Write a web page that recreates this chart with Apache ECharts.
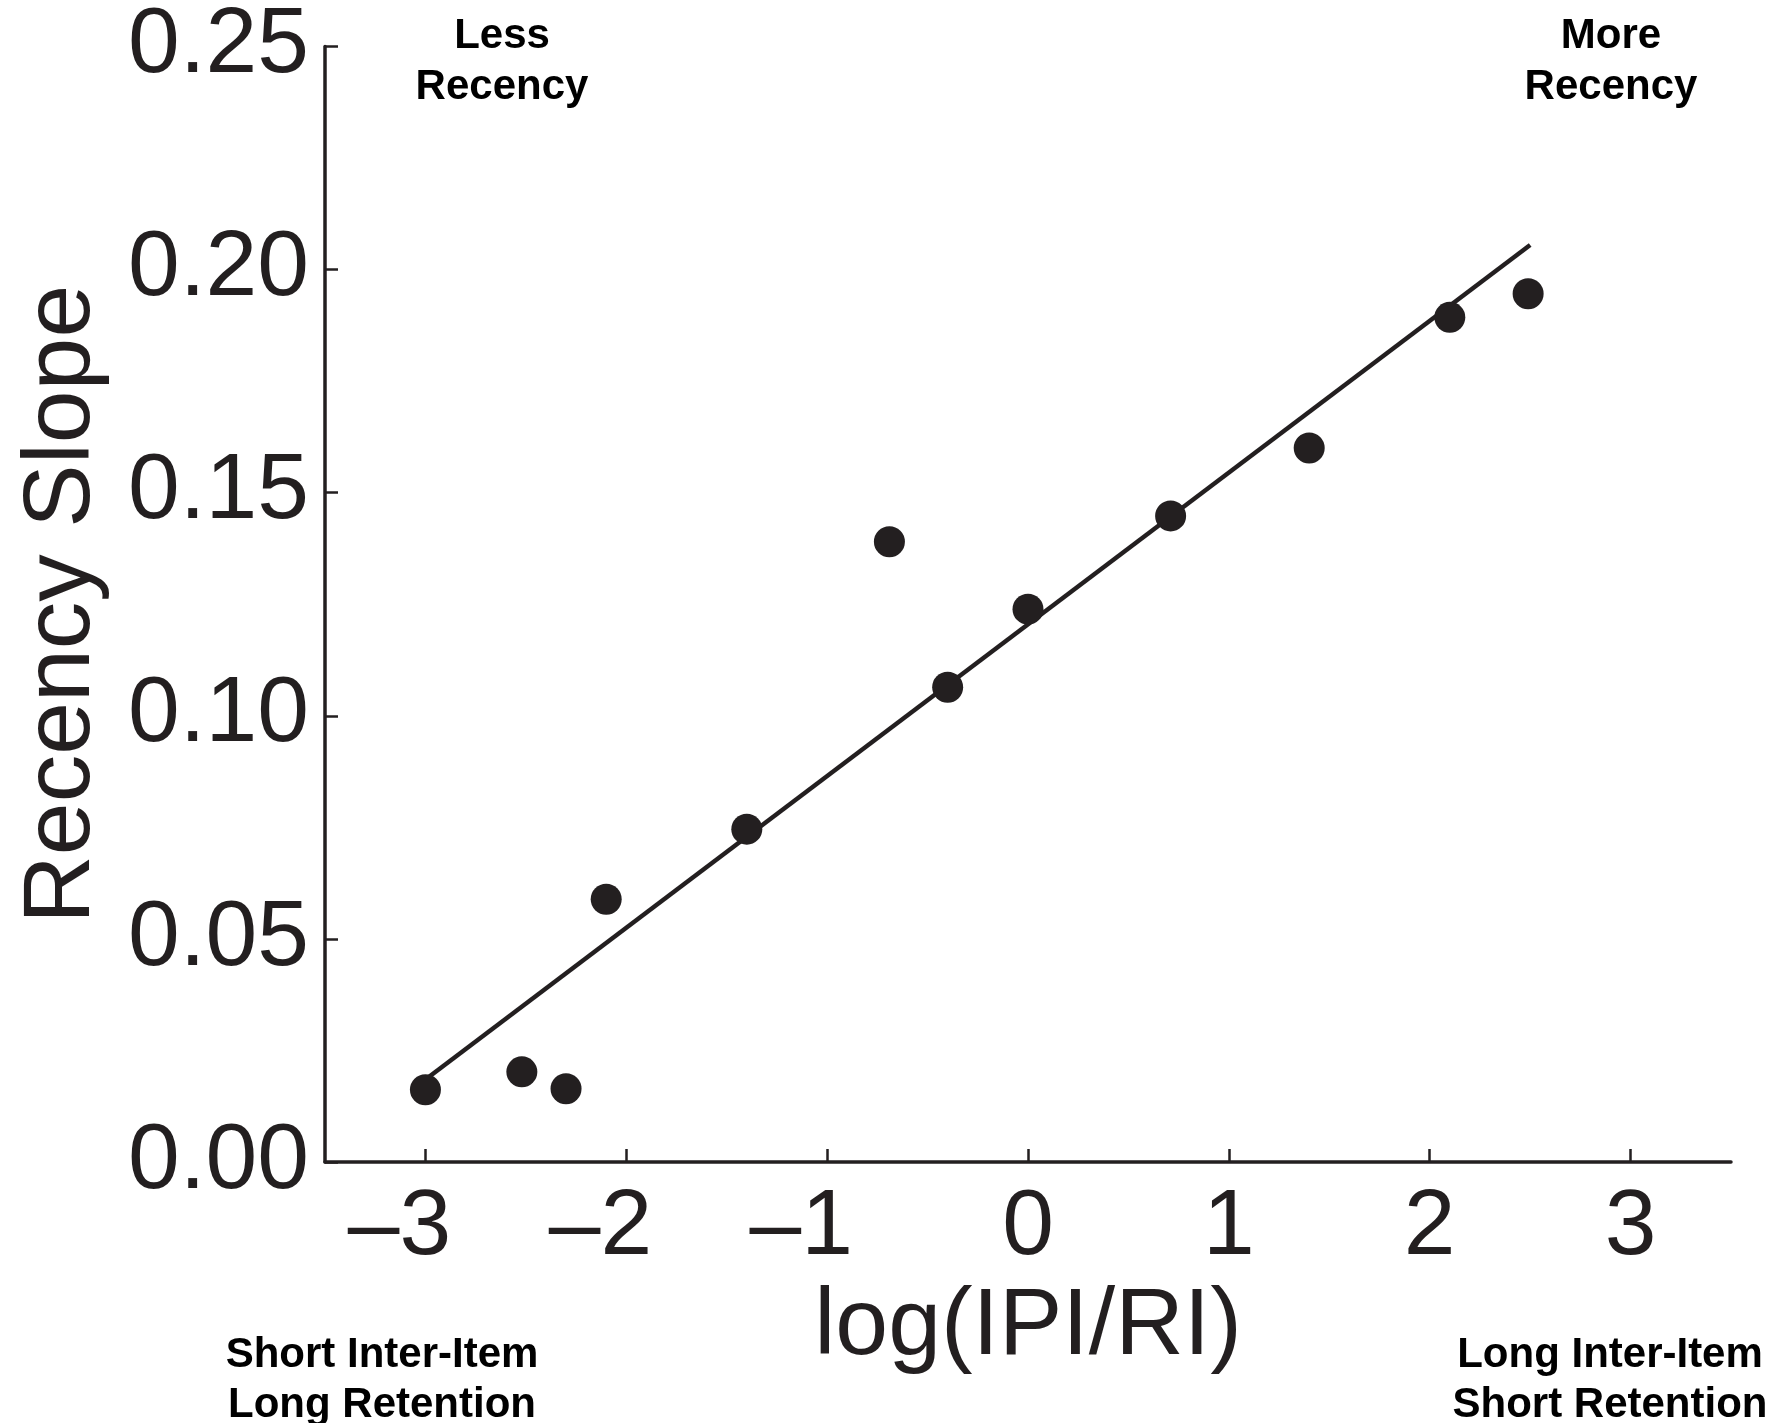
<!DOCTYPE html>
<html>
<head>
<meta charset="utf-8">
<script src="https://cdn.jsdelivr.net/npm/echarts@6/dist/echarts.min.js"></script>
<style>
html,body{margin:0;padding:0;background:#fff;}
#main{width:1774px;height:1423px;}
</style>
</head>
<body>
<div id="main"></div>
<script>
// points
var xVals = [-3.00, -2.52, -2.30, -2.10, -1.40, -0.69, -0.40, 0.00, 0.71, 1.40, 2.10, 2.49];
var yVals = [0.0162, 0.0202, 0.0164, 0.0589, 0.0746, 0.1390, 0.1064, 0.1239, 0.1448, 0.1600, 0.1893, 0.1946];
// regression line end points
var fitX = [-3.00, 2.50];
var fitY = [0.0185, 0.2055];
var xTicks = [-3, -2, -1, 0, 1, 2, 3];

var ink = '#231f20';
var fam = '"Liberation Sans", Arial, Helvetica, sans-serif';

var pts = [];
for (var i = 0; i < xVals.length; i++) pts.push([xVals[i], yVals[i]]);
var fit = [];
for (var j = 0; j < fitX.length; j++) fit.push([fitX[j], fitY[j]]);

var myChart = echarts.init(document.getElementById('main'));
var option = {
    backgroundColor: '#fff',
    animation: false,
    grid: { left: 325, right: 43, top: 43, bottom: 261 },
    xAxis: {
        type: 'value',
        min: -3.5,
        max: 3.5,
        name: 'log(IPI/RI)',
        nameLocation: 'middle',
        nameGap: 112,
        nameTextStyle: { color: ink, fontSize: 95, fontFamily: fam },
        splitLine: { show: false },
        axisLine: { onZero: false, lineStyle: { color: ink, width: 3.5 } },
        axisTick: { inside: true, length: 13, customValues: xTicks, lineStyle: { color: ink, width: 2.5 } },
        axisLabel: {
            customValues: xTicks,
            margin: 20,
            color: ink,
            fontSize: 93,
            fontFamily: fam,
            // minus hangs to the left, digit stays centred on the tick
            formatter: function (v) { return v < 0 ? '\u2013' + Math.abs(v) + '{h|\u2013}' : String(v); },
            rich: { h: { color: 'rgba(0,0,0,0)', fontSize: 93, fontFamily: fam } }
        }
    },
    yAxis: {
        type: 'value',
        min: 0,
        max: 0.25,
        interval: 0.05,
        name: 'Recency Slope',
        nameLocation: 'middle',
        nameGap: 215,
        nameTextStyle: { color: ink, fontSize: 95, fontFamily: fam },
        splitLine: { show: false },
        axisLine: { show: true, onZero: false, lineStyle: { color: ink, width: 3.5 } },
        axisTick: { show: true, inside: true, length: 13, lineStyle: { color: ink, width: 2.5 } },
        axisLabel: {
            margin: 16,
            color: ink,
            fontSize: 93,
            fontFamily: fam,
            formatter: function (v) { return v.toFixed(2); }
        }
    },
    series: [
        {
            type: 'line',
            data: fit,
            symbol: 'none',
            lineStyle: { color: ink, width: 4.5 },
            z: 2
        },
        {
            type: 'scatter',
            data: pts,
            symbol: 'circle',
            symbolSize: 31,
            itemStyle: { color: ink, opacity: 1 },
            z: 3
        }
    ],
    graphic: [
        { type: 'text', x: 502, y: 11, style: { text: 'Less\nRecency', fill: '#000', font: 'bold 42px ' + fam, textAlign: 'center', textVerticalAlign: 'top', lineHeight: 51 } },
        { type: 'text', x: 1611, y: 11, style: { text: 'More\nRecency', fill: '#000', font: 'bold 42px ' + fam, textAlign: 'center', textVerticalAlign: 'top', lineHeight: 51 } },
        { type: 'text', x: 382, y: 1330, style: { text: 'Short Inter-Item\nLong Retention', fill: '#000', font: 'bold 42px ' + fam, textAlign: 'center', textVerticalAlign: 'top', lineHeight: 50 } },
        { type: 'text', x: 1610, y: 1330, style: { text: 'Long Inter-Item\nShort Retention', fill: '#000', font: 'bold 42px ' + fam, textAlign: 'center', textVerticalAlign: 'top', lineHeight: 50 } }
    ]
};
myChart.setOption(option);
</script>
</body>
</html>
